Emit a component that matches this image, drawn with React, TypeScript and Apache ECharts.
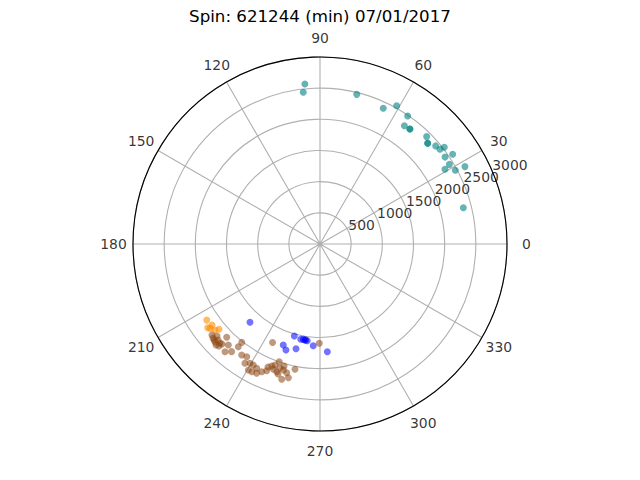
import React, { useEffect, useRef } from "react";
import * as echarts from "echarts";

const TITLE = "Spin: 621244 (min) 07/01/2017";
const ANGLE_TICKS = [0, 30, 60, 90, 120, 150, 180, 210, 240, 270, 300, 330];
const RADIUS_TICKS = [500, 1000, 1500, 2000, 2500, 3000];
const RADIUS_LABEL_ANGLE = 22.5;
const R_MAX = 3000;

// [radius, angle(deg)]
const TEAL: number[][] = [
  [2578, 95.4], [2448, 96.3], [2472, 76.2], [2402, 65.0], [2537, 61.0],
  [2489, 55.6], [2331, 54.5], [2343, 52.0], [2343, 52.0], [2428, 45.2],
  [2366, 43.1], [2366, 43.1], [2433, 40.3], [2453, 38.3], [2527, 37.9],
  [2570, 34.1], [2443, 34.8], [2437, 31.6], [2636, 28.1], [2336, 30.9],
  [2472, 28.6], [2372, 14.2],
];

const ORANGE: number[][] = [
  [2189, 213.9], [2247, 216.7], [2223, 217.5], [2178, 219.3], [2121, 220.2],
  [2166, 216.9],
];

const BROWN: number[][] = [
  [2285, 221.3], [2304, 223.0], [2247, 223.3], [2326, 224.2], [2258, 224.7],
  [2294, 222.2], [2303, 225.3], [2246, 225.6], [2216, 221.8], [2266, 220.1],
  [2117, 225.0], [2189, 227.8], [2304, 228.6], [2235, 230.6], [2105, 231.5],
  [2017, 231.5], [2179, 234.8], [2157, 237.0], [2261, 237.8], [2219, 239.6],
  [2326, 240.4], [2217, 241.1], [2323, 241.9], [2238, 243.0], [2310, 243.9],
  [2252, 245.5], [2206, 247.2], [2105, 248.4], [2145, 249.6], [1998, 250.9],
  [2163, 251.3], [2105, 253.8], [2133, 255.5], [2256, 254.2], [2205, 256.7],
  [2050, 258.7], [1755, 244.3], [1593, 269.6], [2143, 247.1], [2071, 249.6],
  [2091, 252.1], [2041, 253.6], [2192, 252.1],
];

const BLUE: number[][] = [
  [1685, 228.2], [1724, 250.0], [1786, 252.2], [1532, 254.4], [1723, 257.1],
  [1560, 258.6], [1553, 260.1], [1557, 261.5], [1565, 262.5], [1560, 261.0],
  [1635, 266.2], [1732, 273.9],
];

const FONT = "DejaVu Sans";

export default function App() {
  const ref = useRef<HTMLDivElement>(null);
  useEffect(() => {
    if (!ref.current) return;
    const chart = echarts.init(ref.current, undefined, { renderer: "svg" });
    const pointSeries = (data: number[][], color: string, opacity: number) => ({
      type: "scatter",
      coordinateSystem: "polar",
      data,
      symbolSize: 7,
      itemStyle: { color, opacity },
      silent: true,
      z: 3,
    });
    const labelOffset = 19.5;
    chart.setOption({
      animation: false,
      title: {
        text: TITLE,
        left: "center",
        top: 3,
        textStyle: { fontFamily: FONT, fontSize: 16.67, fontWeight: "normal", color: "#000" },
      },
      polar: { center: [320, 244], radius: 187 },
      angleAxis: {
        type: "value",
        min: 0,
        max: 360,
        interval: 30,
        startAngle: 0,
        clockwise: false,
        axisLine: { show: true, lineStyle: { color: "#000", width: 1.1 } },
        axisTick: { show: false },
        axisLabel: { show: false },
        splitLine: { show: true, lineStyle: { color: "#b0b0b0", width: 1.1 } },
      },
      radiusAxis: {
        type: "value",
        min: 0,
        max: R_MAX,
        interval: 500,
        axisLine: { show: false },
        axisTick: { show: false },
        axisLabel: { show: false },
        splitLine: { show: true, lineStyle: { color: "#b0b0b0", width: 1.1 } },
      },
      series: [
        pointSeries(TEAL, "#008080", 0.6),
        pointSeries(ORANGE, "#ff8c00", 0.6),
        pointSeries(BROWN, "#8b4513", 0.55),
        pointSeries(BLUE, "#0000ff", 0.55),
        {
          type: "scatter",
          coordinateSystem: "polar",
          data: RADIUS_TICKS.map((r) => [r, RADIUS_LABEL_ANGLE]),
          symbolSize: 1,
          itemStyle: { color: "transparent" },
          silent: true,
          z: 4,
          label: {
            show: true,
            position: [0, 0],
            align: "left",
            verticalAlign: "bottom",
            fontFamily: FONT,
            fontSize: 13.9,
            color: "#000",
            formatter: (p: any) => String(p.value[0]),
          },
        },
        {
          type: "scatter",
          coordinateSystem: "polar",
          data: ANGLE_TICKS.map((a) => ({
            value: [R_MAX, a],
            label: {
              offset: [
                labelOffset * Math.cos((a * Math.PI) / 180),
                -labelOffset * Math.sin((a * Math.PI) / 180),
              ],
            },
          })),
          symbolSize: 1,
          itemStyle: { color: "transparent" },
          silent: true,
          z: 4,
          label: {
            show: true,
            position: "inside",
            align: "center",
            verticalAlign: "middle",
            fontFamily: FONT,
            fontSize: 13.9,
            color: "#000",
            formatter: (p: any) => String(p.value[1]),
          },
        },
      ],
    });
    return () => chart.dispose();
  }, []);
  return (
    <div
      ref={ref}
      style={{ position: "fixed", left: 0, top: 0, width: 640, height: 480, background: "#fff" }}
    />
  );
}
